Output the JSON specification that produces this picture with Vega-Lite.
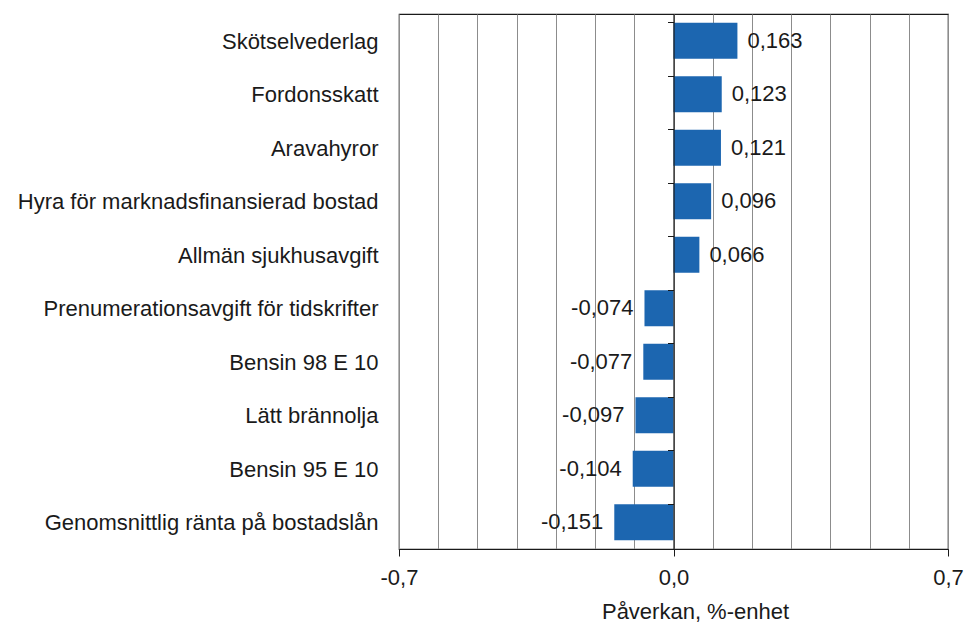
{
  "$schema": "https://vega.github.io/schema/vega-lite/v6.json",
  "width": 549,
  "height": 535,
  "autosize": {"type": "none"},
  "padding": {"left": 399, "top": 14, "right": 18, "bottom": 73},
  "background": "#ffffff",
  "config": {
    "locale": {"number": {"decimal": ",", "thousands": " ", "grouping": [3], "currency": ["", " €"], "minus": "-"}},
    "view": {"stroke": "#1a1a1a", "strokeWidth": 1.2},
    "font": "Liberation Sans",
    "text": {"font": "Liberation Sans"}
  },
  "data": {
    "values": [
      {"kategori": "Skötselvederlag", "varde": 0.163},
      {"kategori": "Fordonsskatt", "varde": 0.123},
      {"kategori": "Aravahyror", "varde": 0.121},
      {"kategori": "Hyra för marknadsfinansierad bostad", "varde": 0.096},
      {"kategori": "Allmän sjukhusavgift", "varde": 0.066},
      {"kategori": "Prenumerationsavgift för tidskrifter", "varde": -0.074},
      {"kategori": "Bensin 98 E 10", "varde": -0.077},
      {"kategori": "Lätt brännolja", "varde": -0.097},
      {"kategori": "Bensin 95 E 10", "varde": -0.104},
      {"kategori": "Genomsnittlig ränta på bostadslån", "varde": -0.151}
    ]
  },
  "resolve": {"axis": {"y": "independent"}},
  "layer": [
    {
      "mark": {"type": "bar", "color": "#1c66b0"},
      "encoding": {
        "y": {
          "field": "kategori", "type": "nominal", "sort": null,
          "scale": {"paddingInner": 0.33, "paddingOuter": 0.165},
          "axis": {
            "orient": "left", "title": null, "domain": false, "ticks": false,
            "labelPadding": 21, "labelFont": "Liberation Sans", "labelFontSize": 22,
            "labelColor": "#1a1a1a", "labelLimit": 500, "grid": false, "labelOffset": 1
          }
        },
        "x": {
          "field": "varde", "type": "quantitative",
          "scale": {"domain": [-0.7, 0.7], "nice": false, "zero": false},
          "axis": {
            "values": [-0.7, -0.6, -0.5, -0.4, -0.3, -0.2, -0.1, 0, 0.1, 0.2, 0.3, 0.4, 0.5, 0.6, 0.7],
            "tickCount": 40,
            "format": ".1f",
            "labelExpr": "abs(datum.value) > 0.65 || datum.value == 0 ? datum.label : ''",
            "grid": true, "gridColor": "#8c8c8c", "gridWidth": 1,
            "domain": true, "domainColor": "#1a1a1a", "domainWidth": 1.2,
            "ticks": true, "tickSize": 7, "tickColor": "#1a1a1a",
            "tickOpacity": {"condition": {"test": "abs(datum.value) > 0.65 || datum.value == 0", "value": 1}, "value": 0},
            "labelFont": "Liberation Sans", "labelFontSize": 22, "labelColor": "#1a1a1a",
            "labelBaseline": "alphabetic", "labelPadding": 28, "labelFlush": false, "labelOverlap": false,
            "title": "Påverkan, %-enhet", "titleFont": "Liberation Sans", "titleFontSize": 22,
            "titleFontWeight": "normal", "titleColor": "#1a1a1a",
            "titleX": 296, "titleY": 69, "titleAlign": "center", "titleBaseline": "alphabetic"
          }
        }
      }
    },
    {
      "mark": {
        "type": "text", "font": "Liberation Sans", "fontSize": 22, "color": "#1a1a1a", "baseline": "middle",
        "align": {"expr": "datum.varde < 0 ? 'right' : 'left'"},
        "dx": {"expr": "datum.varde < 0 ? -11 : 10"}
      },
      "encoding": {
        "y": {"field": "kategori", "type": "nominal", "sort": null, "axis": null},
        "x": {"field": "varde", "type": "quantitative"},
        "text": {"field": "varde", "type": "quantitative", "format": ".3f"}
      }
    },
    {
      "mark": {"type": "bar", "opacity": 0},
      "encoding": {
        "y": {
          "field": "kategori", "type": "nominal", "sort": null,
          "axis": {
            "orient": "left", "offset": -274.5, "labels": false, "title": null, "grid": false,
            "domain": true, "domainColor": "#1a1a1a", "domainWidth": 1.2,
            "ticks": true, "tickSize": 6, "tickColor": "#1a1a1a", "bandPosition": 0, "zindex": 1
          }
        },
        "x": {"field": "varde", "type": "quantitative"}
      }
    }
  ]
}
